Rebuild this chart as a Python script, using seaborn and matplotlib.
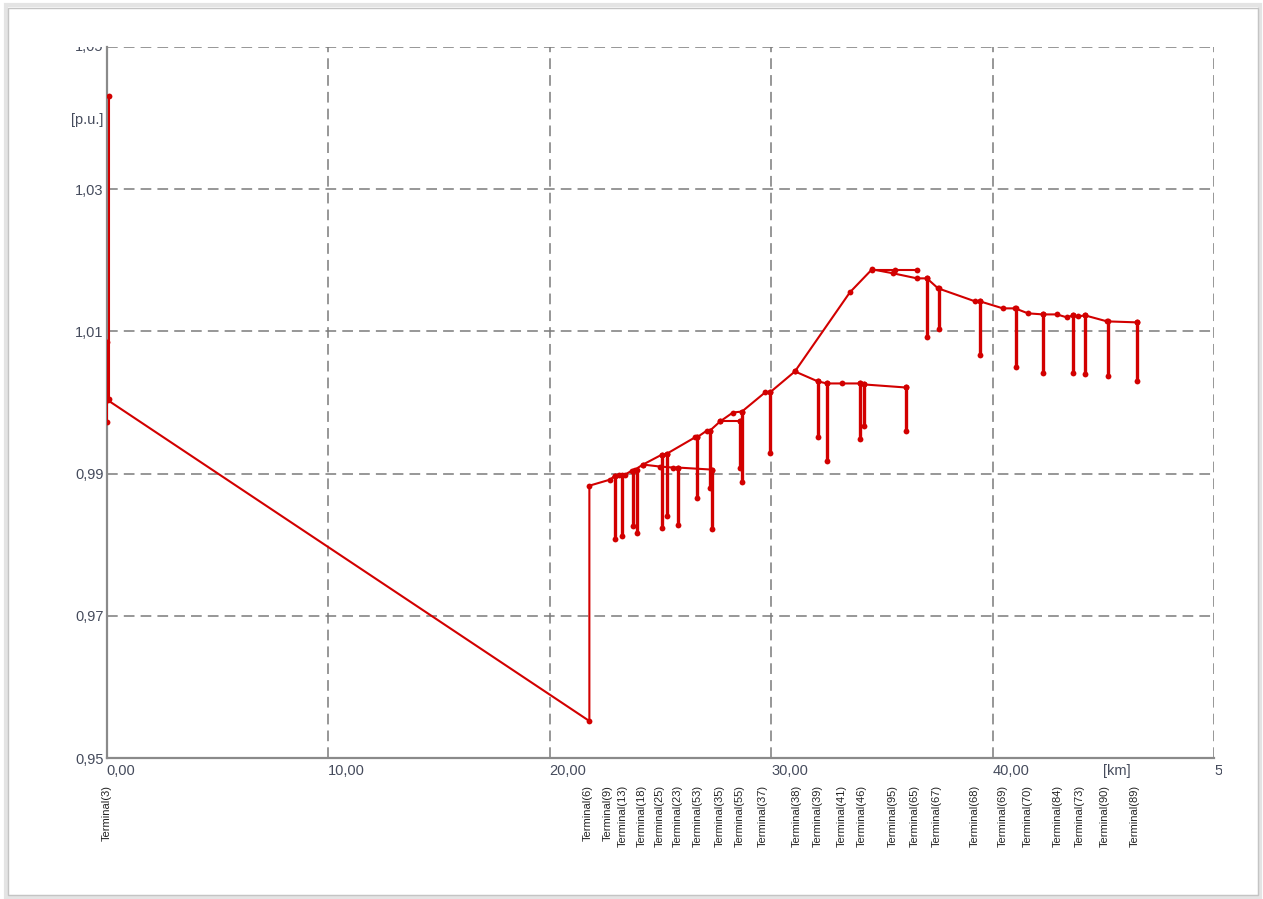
import matplotlib
matplotlib.use('Agg')
import matplotlib.pyplot as plt
from matplotlib.patches import Rectangle
from matplotlib.transforms import Bbox, TransformedBbox
import pandas as pd
import seaborn as sns

# voltage profile: distance [km] vs voltage [p.u.]
src_km = [0.11, 0.11]
src_pu = [1.0431, 1.0005]
bus0_km = [0.02, 0.02, 0.02]
bus0_pu = [1.0085, 1.0006, 0.9972]

trunk_km = [0.07, 21.8, 21.8, 22.73, 22.96, 23.14, 23.41, 23.72, 23.86, 24.22, 25.08, 25.31,
            26.57, 26.66, 27.11, 27.25, 27.70, 28.28, 28.69, 29.73, 29.95, 31.08, 33.56, 34.56,
            35.51, 36.59, 37.04, 37.54, 39.21, 39.43, 40.47, 41.02, 41.60, 42.28, 42.91, 43.36,
            43.63, 43.86, 44.18, 45.17, 46.52]
trunk_pu = [1.0003, 0.9552, 0.9883, 0.98915, 0.98972, 0.98986, 0.98986, 0.99042, 0.99056,
            0.99127, 0.99268, 0.99282, 0.9951, 0.9951, 0.99606, 0.99606, 0.99733, 0.99859,
            0.99873, 1.00141, 1.00141, 1.00437, 1.01549, 1.01873, 1.01817, 1.01746, 1.01746,
            1.01606, 1.01423, 1.01423, 1.01324, 1.01324, 1.01254, 1.01239, 1.01239, 1.01197,
            1.01225, 1.01211, 1.01225, 1.01141, 1.01127]

top_km = [34.56, 35.6, 36.59]
top_pu = [1.0187, 1.0187, 1.0187]

branch_a_km = [24.22, 24.99, 25.58, 25.80, 27.34]
branch_a_pu = [0.99127, 0.99099, 0.99085, 0.99085, 0.99056]

branch_b_km = [31.08, 32.12, 32.53, 33.21, 34.02, 34.20, 36.09]
branch_b_pu = [1.00437, 1.00296, 1.00268, 1.00268, 1.00268, 1.00254, 1.00211]

link_km = [27.70, 28.60]
link_pu = [0.99733, 0.99733]

# transformer drops (same distance, two voltages)
stub_km = [22.96, 23.27, 23.77, 23.95, 25.08, 25.31, 25.80, 26.66, 27.25, 27.34, 28.60, 28.69,
           29.95, 32.12, 32.53, 34.02, 34.20, 36.09, 37.04, 37.59, 39.43, 41.07, 42.28, 43.63,
           44.18, 45.22, 46.52]
stub_top = [0.98972, 0.98986, 0.99042, 0.99056, 0.99268, 0.99282, 0.99085, 0.9951, 0.99606,
            0.99056, 0.99733, 0.99873, 1.00141, 1.00296, 1.00268, 1.00268, 1.00254, 1.00211,
            1.01746, 1.01606, 1.01423, 1.01324, 1.01239, 1.01225, 1.01225, 1.01141, 1.01127]
stub_bot = [0.98085, 0.98127, 0.98268, 0.98169, 0.98239, 0.98408, 0.98282, 0.98662, 0.98803,
            0.98225, 0.99085, 0.98887, 0.99296, 0.99521, 0.99183, 0.99493, 0.99676, 0.99606,
            1.00915, 1.01028, 1.00662, 1.00493, 1.00408, 1.00408, 1.00394, 1.00366, 1.00296]

term_names = ['Terminal(3)', 'Terminal(6)', 'Terminal(9)', 'Terminal(13)', 'Terminal(18)',
              'Terminal(25)', 'Terminal(23)', 'Terminal(53)', 'Terminal(35)', 'Terminal(55)',
              'Terminal(37)', 'Terminal(38)', 'Terminal(39)', 'Terminal(41)', 'Terminal(46)',
              'Terminal(95)', 'Terminal(65)', 'Terminal(67)', 'Terminal(68)', 'Terminal(69)',
              'Terminal(70)', 'Terminal(84)', 'Terminal(73)', 'Terminal(90)', 'Terminal(89)']
term_km = [0.02, 21.74, 22.64, 23.32, 24.18, 24.99, 25.80, 26.70, 27.70, 28.60, 29.64, 31.18,
           32.12, 33.21, 34.11, 35.51, 36.50, 37.50, 39.21, 40.47, 41.60, 42.96, 43.95, 45.08,
           46.43]

x_ticks = [0, 10, 20, 30, 40, 45]
x_labels = ['0,00', '10,00', '20,00', '30,00', '40,00', '[km]']
y_ticks = [0.95, 0.97, 0.99, 1.01, 1.03, 1.04]
y_labels = ['0,95', '0,97', '0,99', '1,01', '1,03', '[p.u.]']

rows = []
lines = [(src_km, src_pu), (bus0_km, bus0_pu), (trunk_km, trunk_pu), (top_km, top_pu),
         (branch_a_km, branch_a_pu), (branch_b_km, branch_b_pu), (link_km, link_pu)]
for i, (xs, ys) in enumerate(lines):
    for k, (x, y) in enumerate(zip(xs, ys)):
        rows.append({'km': x, 'pu': y, 'seg': f'l{i}', 'order': k})
stub_rows = []
for i, (x, t, b) in enumerate(zip(stub_km, stub_top, stub_bot)):
    stub_rows.append({'km': x, 'pu': t, 'seg': f's{i}', 'order': 0})
    stub_rows.append({'km': x, 'pu': b, 'seg': f's{i}', 'order': 1})
df = pd.DataFrame(rows)
df_stub = pd.DataFrame(stub_rows)

sns.set_theme(style='white')
plt.rcParams['font.family'] = ['Liberation Sans', 'DejaVu Sans']

fig = plt.figure(figsize=(12.63, 8.99), dpi=100)
fig.patches.append(Rectangle((6 / 1263, 2 / 899), 1254 / 1263, 892 / 899, transform=fig.transFigure,
                             fill=False, edgecolor='#e4e4e4', lw=3, zorder=0))
fig.patches.append(Rectangle((8 / 1263, 4 / 899), 1250 / 1263, 887 / 899, transform=fig.transFigure,
                             fill=False, edgecolor='#c4c4c4', lw=1, zorder=0))
ax = fig.add_axes([106.5 / 1263, 1 - 758 / 899, (1214 - 106.5) / 1263, 711 / 899])

grid_kw = dict(color='#7a7a7a', lw=1.1, ls=(0, (7, 4)), zorder=1)
for gx in [10, 20, 30, 40, 50]:
    ax.axvline(gx, **grid_kw)
for gy in [0.97, 0.99, 1.01, 1.03, 1.05]:
    ax.axhline(gy, **grid_kw)

red = '#d20000'
sns.lineplot(data=df_stub, x='km', y='pu', units='seg', estimator=None, sort=False, color=red,
             lw=2.4, marker='o', markersize=4.2, markeredgewidth=0, ax=ax, zorder=3)
sns.lineplot(data=df, x='km', y='pu', units='seg', estimator=None, sort=False, color=red,
             lw=1.5, marker='o', markersize=4.2, markeredgewidth=0, ax=ax, zorder=4)

ax.set_xlim(0, 50)
ax.set_ylim(0.95, 1.05)
ax.set_xlabel('')
ax.set_ylabel('')
for s in ['top', 'right']:
    ax.spines[s].set_visible(False)
for s in ['left', 'bottom']:
    ax.spines[s].set_color('#8a8a8a')
    ax.spines[s].set_linewidth(1.6)

lab_color = '#454b5c'
ax.set_xticks(x_ticks)
ax.set_xticklabels(x_labels, ha='left', fontsize=10.5, color=lab_color)
ax.set_yticks(y_ticks)
ax.set_yticklabels(y_labels, fontsize=10.5, color=lab_color)
ax.tick_params(axis='x', length=0, pad=4)
ax.tick_params(axis='y', length=0, pad=2)
ax.set_xticks([5, 15, 25, 35, 45], minor=True)
ax.set_yticks([0.96, 0.98, 1.00, 1.02], minor=True)
ax.tick_params(axis='x', which='minor', direction='in', length=4, width=1.2, color='#808080')
ax.tick_params(axis='y', which='minor', direction='out', length=3, width=1.2, color='#808080')

# labels cut off at the panel edges
t1 = fig.text(103 / 1263, 1 - 47 / 899, '1,05', ha='right', va='center', fontsize=10.5, color=lab_color)
t1.set_clip_box(TransformedBbox(Bbox([[0, 0], [1, 1 - 47 / 899]]), fig.transFigure))
t1.set_clip_on(True)
t2 = fig.text(1214 / 1263, 1 - 764 / 899, '50,00', ha='left', va='top', fontsize=10.5, color=lab_color)
t2.set_clip_box(TransformedBbox(Bbox([[0, 0], [1222 / 1263, 1]]), fig.transFigure))
t2.set_clip_on(True)

for name, x in zip(term_names, term_km):
    ax.text(x, -0.038, name, transform=ax.get_xaxis_transform(), rotation=90,
            ha='center', va='top', fontsize=8, color='#222222')

fig.savefig('out.png', dpi=100)
